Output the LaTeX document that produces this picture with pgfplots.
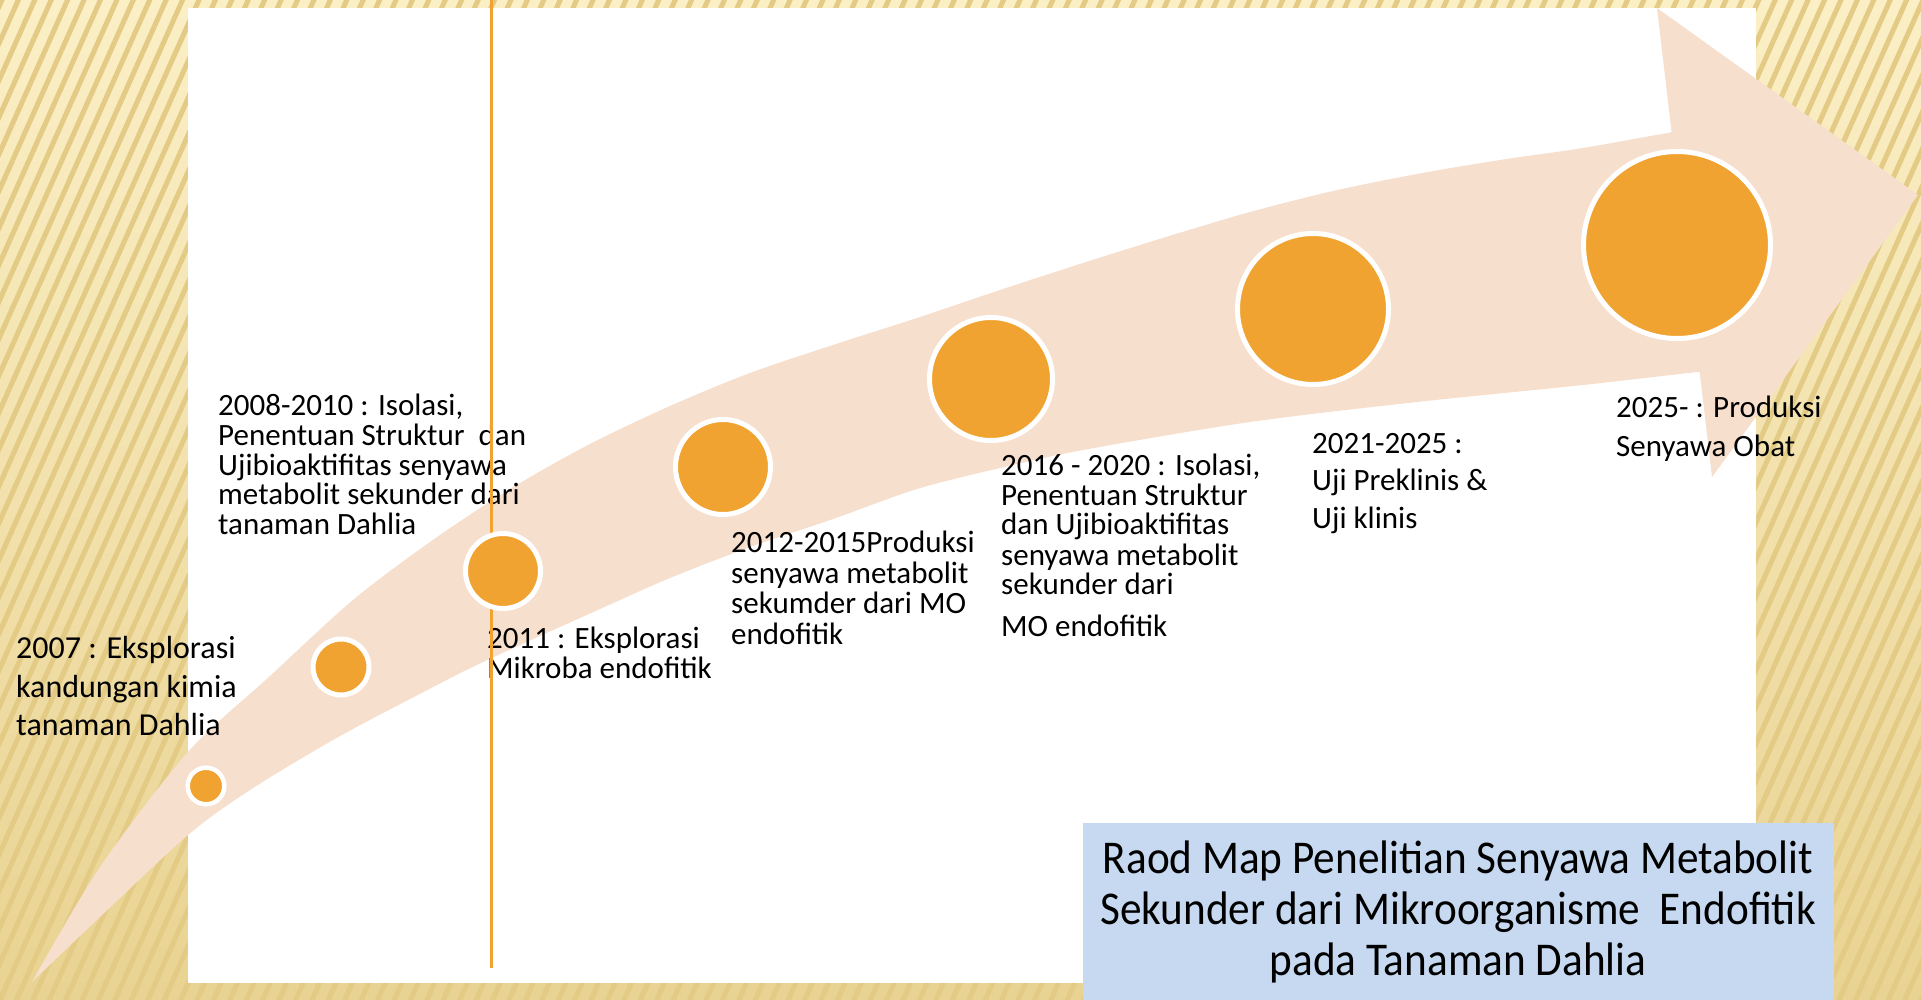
\documentclass[border=0pt]{standalone}
\usepackage{pgfplots}
\pgfplotsset{compat=1.18}
\usetikzlibrary{patterns.meta}
\usepackage{fontspec}
\setmainfont{Carlito}
\newfontfamily\titlefont[FakeStretch=0.92]{Carlito}
\definecolor{bgtop}{HTML}{FBEFC6}
\definecolor{bgbot}{HTML}{E9D392}
\definecolor{stripe}{HTML}{E3CB85}
\definecolor{peach}{HTML}{F7DFCE}
\definecolor{dot}{HTML}{F0A331}
\definecolor{boxblue}{HTML}{C6D9F0}
\newcommand{\lab}[3]{\node[anchor=base west, inner sep=0pt] at (axis cs:#1,#2) {#3};}
\begin{document}
\begin{tikzpicture}
\begin{axis}[scale only axis, width=1921pt, height=1000pt,
  xmin=0, xmax=1921, ymin=0, ymax=1000, y dir=reverse,
  axis lines=none, clip=false]
% background
\addplot[draw=none, top color=bgtop, bottom color=bgbot] coordinates {(0,0)(1921,0)(1921,1000)(0,1000)} -- cycle;
\addplot[draw=none, pattern={Lines[angle=66, distance=15pt, line width=5pt]}, pattern color=stripe, fill opacity=0.4] coordinates {(0,0)(1921,0)(1921,1000)(0,1000)} -- cycle;
% white panel
\addplot[draw=none, fill=white] coordinates {(188,8)(1756,8)(1756,983)(188,983)} -- cycle;
% band (upper edge, then lower edge back to the tail)
\addplot[draw=none, fill=peach, smooth, tension=0.5] coordinates {
 (32,982)(100,867)(188,752)(270,676)(353,600)(430,542)(510,489)(590,444)(670,406)(750,373)(833,345)(917,318)(1000,290)(1083,263)(1166,237)(1250,212)(1333,191)(1417,174)(1500,160)(1583,148)(1668,133)(1720,126)
 (1720,370)(1697,372)(1583,385)(1417,402)(1250,422)(1083,450)(1000,468)(917,489)(833,519)(750,547)(670,578)(600,609)(483,662)(410,699)(333,740)(250,790)(188,835)(100,917)(32,982)};
% arrow head
\addplot[draw=none, fill=peach] coordinates {(1657,8)(1918,195)(1712,477)} -- cycle;
% blue title box
\addplot[draw=none, fill=boxblue] coordinates {(1083,823)(1834,823)(1834,1000)(1083,1000)} -- cycle;
% milestones
\addplot[only marks, mark=*, mark size=18.3pt, mark options={fill=dot, draw=white, line width=4.5pt}] coordinates {(206,786)};
\addplot[only marks, mark=*, mark size=28pt, mark options={fill=dot, draw=white, line width=5pt}] coordinates {(341,667)};
\addplot[only marks, mark=*, mark size=37.5pt, mark options={fill=dot, draw=white, line width=5pt}] coordinates {(503,571)};
\addplot[only marks, mark=*, mark size=47.5pt, mark options={fill=dot, draw=white, line width=5pt}] coordinates {(723,467)};
\addplot[only marks, mark=*, mark size=61.5pt, mark options={fill=dot, draw=white, line width=5pt}] coordinates {(991,379)};
\addplot[only marks, mark=*, mark size=75.5pt, mark options={fill=dot, draw=white, line width=5pt}] coordinates {(1313,309)};
\addplot[only marks, mark=*, mark size=93.5pt, mark options={fill=dot, draw=white, line width=5pt}] coordinates {(1677,245)};
% texts
\fontsize{31}{37}\selectfont
\lab{16}{658}{\fontsize{32}{38}\selectfont 2007 : Eksplorasi}
\lab{16}{697}{\fontsize{32}{38}\selectfont kandungan kimia}
\lab{16}{735}{\fontsize{32}{38}\selectfont tanaman Dahlia}
\lab{218}{415}{2008-2010 : Isolasi,}
\lab{218}{445}{Penentuan Struktur\ \ dan}
\lab{218}{475}{Ujibioaktifitas senyawa}
\lab{218}{504}{metabolit sekunder dari}
\lab{218}{534}{tanaman Dahlia}
\lab{487}{648}{2011 : Eksplorasi}
\lab{487}{678}{Mikroba endofitik}
\lab{731}{552}{2012-2015Produksi}
\lab{731}{583}{senyawa metabolit}
\lab{731}{613}{sekumder dari MO}
\lab{731}{644}{endofitik}
\lab{1001}{475}{2016 - 2020 : Isolasi,}
\lab{1001}{505}{Penentuan Struktur}
\lab{1001}{534}{dan Ujibioaktifitas}
\lab{1001}{565}{senyawa metabolit}
\lab{1001}{594}{sekunder dari}
\lab{1001}{636}{MO endofitik}
\lab{1312}{453}{2021-2025 :}
\lab{1312}{490}{Uji Preklinis \&}
\lab{1312}{528}{Uji klinis}
\lab{1616}{417}{2025- : Produksi}
\lab{1616}{456}{Senyawa Obat}
\node[anchor=base, inner sep=0pt] at (axis cs:1458,873) {\titlefont\fontsize{47}{52}\selectfont Raod Map Penelitian Senyawa Metabolit};
\node[anchor=base, inner sep=0pt] at (axis cs:1458,924) {\titlefont\fontsize{47}{52}\selectfont Sekunder dari Mikroorganisme\ \ Endofitik};
\node[anchor=base, inner sep=0pt] at (axis cs:1458,975) {\titlefont\fontsize{47}{52}\selectfont pada Tanaman Dahlia};
% vertical line
\addplot[draw=dot, line width=3pt] coordinates {(491,0)(491,968)};
\end{axis}
\pgfresetboundingbox
\path (current axis.south west) rectangle (current axis.north east);
\end{tikzpicture}
\end{document}
